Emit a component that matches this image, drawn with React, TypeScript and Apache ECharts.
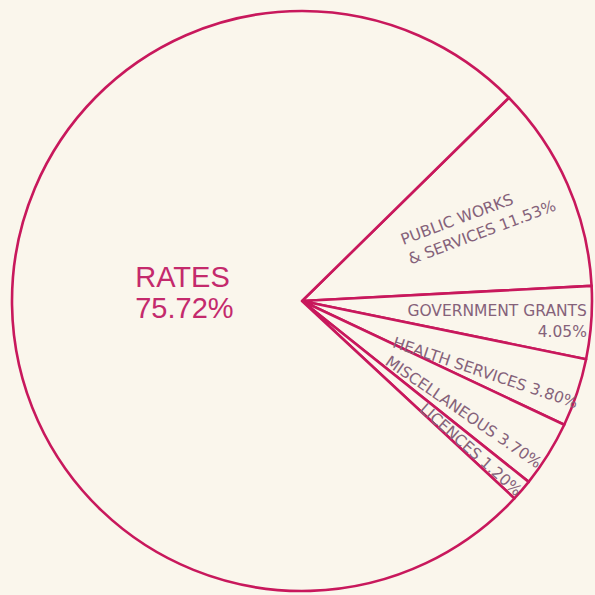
import React, { useEffect, useRef } from 'react';
import * as echarts from 'echarts';

// ---- data ----
const categories = ['PUBLIC WORKS\n& SERVICES', 'GOVERNMENT GRANTS', 'HEALTH SERVICES', 'MISCELLANEOUS', 'LICENCES', 'RATES'];
const percentages = [11.53, 4.05, 3.8, 3.7, 1.2, 75.72];
const labelSeparators = [' ', '\n', ' ', ' ', ' ', '\n'];

// ---- style / layout ----
const CENTER = [302, 301];
const RADIUS = 290;
const START_ANGLE = 44.5;
const labelRadius = [0.397, 0.985, 0.679, 0.676, 0.776, 0.576];
const labelAngleFrac = [0.44, 0.49, 0.72, 0.7, 0.65, 0.514];
const labelRotate = [20.5, 0, -18.4, -34.5, -41.6, 0];
const labelAlign = ['left', 'right', 'center', 'center', 'center', 'left'];

const BG = '#faf6ec';
const LINE = '#c8185c';
const SMALL_TEXT = '#85627a';
const BIG_TEXT = '#c42a6c';

export default function App() {
  const ref = useRef<HTMLDivElement>(null);
  useEffect(() => {
    if (!ref.current) return;
    const chart = echarts.init(ref.current, undefined, { renderer: 'svg' });
    const total = percentages.reduce((a, b) => a + b, 0);
    const cum: number[] = [];
    let acc = 0;
    percentages.forEach((p) => { cum.push(acc); acc += p; });

    const data = categories.map((name, i) => {
      const big = name === 'RATES';
      return {
        name,
        value: percentages[i],
        label: {
          formatter: name + labelSeparators[i] + percentages[i].toFixed(2) + '%',
          fontSize: big ? 29 : 15.5,
          lineHeight: big ? 31 : 21,
          color: big ? BIG_TEXT : SMALL_TEXT,
          fontFamily: big ? 'Liberation Sans' : 'DejaVu Sans',
          align: labelAlign[i],
        },
      };
    });

    chart.setOption({
      animation: false,
      backgroundColor: BG,
      series: [
        {
          type: 'pie',
          center: CENTER,
          radius: RADIUS,
          startAngle: START_ANGLE,
          clockwise: true,
          avoidLabelOverlap: false,
          silent: true,
          itemStyle: { color: BG, borderColor: LINE, borderWidth: 2.6 },
          label: { show: true, position: 'inside' },
          labelLine: { show: false },
          emphasis: { disabled: true },
          data,
          labelLayout: (params: any) => {
            const i = params.dataIndex;
            const a0 = START_ANGLE - (cum[i] / total) * 360;
            const a1 = a0 - (percentages[i] / total) * 360;
            const theta = ((a0 + (a1 - a0) * labelAngleFrac[i]) * Math.PI) / 180;
            const r = RADIUS * labelRadius[i];
            return {
              x: CENTER[0] + r * Math.cos(theta),
              y: CENTER[1] - r * Math.sin(theta),
              rotate: labelRotate[i],
              align: labelAlign[i],
              verticalAlign: 'middle',
            };
          },
        },
      ],
    });
    return () => chart.dispose();
  }, []);
  return <div ref={ref} style={{ position: 'absolute', left: 0, top: 0, width: 595, height: 595 }} />;
}
